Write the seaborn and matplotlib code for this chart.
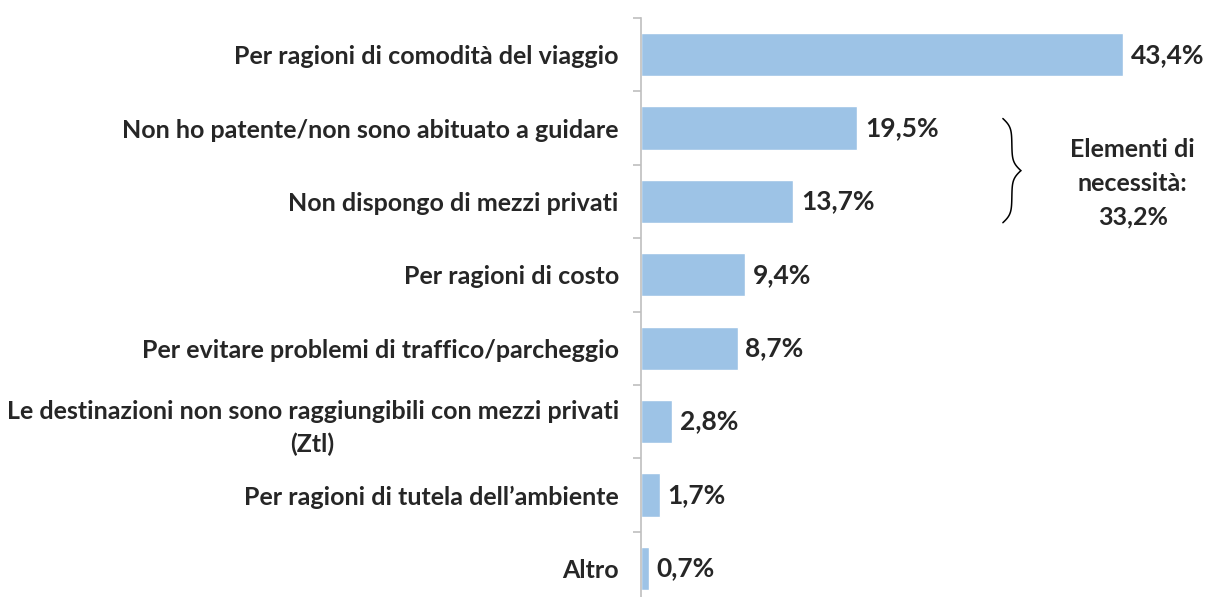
import numpy as np
import pandas as pd
import seaborn as sns
import matplotlib.pyplot as plt

categorie = ["Per ragioni di comodità del viaggio",
             "Non ho patente/non sono abituato a guidare",
             "Non dispongo di mezzi privati",
             "Per ragioni di costo",
             "Per evitare problemi di traffico/parcheggio",
             "Le destinazioni non sono raggiungibili con mezzi privati\n(Ztl)",
             "Per ragioni di tutela dell\u2019ambiente",
             "Altro"]
valori = [43.4, 19.5, 13.7, 9.4, 8.7, 2.8, 1.7, 0.7]
etichette = ["43,4%", "19,5%", "13,7%", "9,4%", "8,7%", "2,8%", "1,7%", "0,7%"]
nota = "Elementi di\nnecessità:\n33,2%"

sns.set_style("white")
plt.rcParams['font.family'] = ['Lato', 'DejaVu Sans']
plt.rcParams['font.weight'] = 'bold'

df = pd.DataFrame({"cat": categorie, "val": valori})

fig = plt.figure(figsize=(12.06, 5.97), dpi=100)
# l'asse va un po' oltre il bordo inferiore, come nell'originale
ax = fig.add_axes([641/1206, -8/597, 1 - 641/1206, 587/597])
sns.barplot(data=df, y="cat", x="val", color="#9DC3E6", saturation=1,
            width=0.59, ax=ax, orient="h")

ax.set_xlim(0, 50.9)
ax.set_ylim(7.5, -0.5)
ax.set_xlabel("")
ax.set_ylabel("")
ax.set_xticks([])
for s in ["top", "right", "bottom"]:
    ax.spines[s].set_visible(False)
ax.spines["left"].set_color("#BFBFBF")
ax.spines["left"].set_linewidth(1.2)

ax.set_yticks(np.arange(len(categorie)))
ax.set_yticklabels(categorie, fontsize=18, fontweight="bold", linespacing=1.45)
for lab in ax.get_yticklabels():
    lab.set_multialignment("center")
ax.tick_params(axis="y", which="major", left=False, length=0, pad=16)
ax.set_yticks(np.arange(len(categorie) + 1) - 0.5, minor=True)
ax.tick_params(axis="y", which="minor", left=True, length=6,
               color="#BFBFBF", width=1.2)

for i, (v, t) in enumerate(zip(valori, etichette)):
    ax.text(v + 0.7, i, t, va="center", ha="left", fontsize=19, fontweight="bold")

# graffa per "Elementi di necessità"
y0, y1 = 0.87, 2.29
ym = (y0 + y1) / 2
x0 = 32.6
w = 1.62
t = np.linspace(0, 1, 100)
off = 1 / (1 + np.exp(-12 * t)) + 1 / (1 + np.exp(-12 * (t - 1)))
xs = x0 + (off - 0.5) * w
ax.plot(xs, y0 + t * (ym - y0), color="black", lw=1.1, clip_on=False)
ax.plot(xs, y1 - t * (y1 - ym), color="black", lw=1.1, clip_on=False)

ax.text(44.3, ym + 0.17, nota, ha="center", va="center", fontsize=18,
        fontweight="bold", linespacing=1.55)

fig.savefig("out.png", dpi=100)
